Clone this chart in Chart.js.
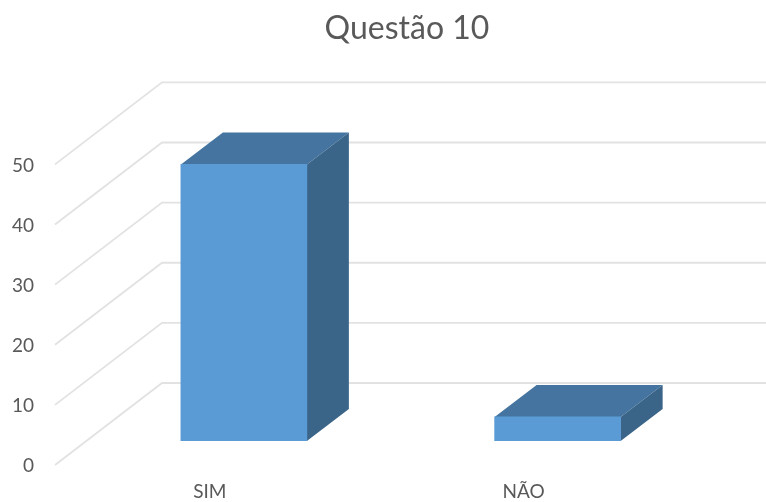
<!DOCTYPE html>
<html>
<head>
<meta charset="utf-8">
<title>Questão 10</title>
<style>
  html, body { margin: 0; padding: 0; background: #fff; }
  #wrap { width: 766px; height: 502px; }
</style>
<script src="https://cdn.jsdelivr.net/npm/chart.js@4"></script>
</head>
<body>
<div id="wrap"><canvas id="bars"></canvas></div>
<script>
const categories = ['SIM', 'NÃO']
const respostas = [46, 4]
const yTicks = [0, 10, 20, 30, 40, 50]

// depth of the fake 3D box, and of the bars inside it
const WALL_X = 107, WALL_Y = 82
const BAR_SHIFT_X = 34, BAR_SHIFT_Y = 24
const BAR_DEPTH_X = 42, BAR_DEPTH_Y = 32

function fillFace(ctx, color, pts) {
    ctx.fillStyle = color
    ctx.beginPath()
    pts.forEach((p, i) => i ? ctx.lineTo(p[0], p[1]) : ctx.moveTo(p[0], p[1]))
    ctx.closePath()
    ctx.fill()
}

const box3d = {
    id: 'box3d',
    afterLayout(chart) {
        // title sits over the back wall, not over the canvas centre
        chart.titleBlock.left = 48
        chart.titleBlock.right = chart.width
    },
    beforeDatasetsDraw(chart) {
        const { ctx, scales: { x, y } } = chart
        ctx.save()
        ctx.strokeStyle = '#e2e2e2'
        ctx.lineWidth = 1.8
        yTicks.forEach(v => {
            const py = y.getPixelForValue(v)
            ctx.beginPath()
            ctx.moveTo(x.left + 2, py)
            ctx.lineTo(x.left + 2 + WALL_X, py - WALL_Y)
            ctx.lineTo(chart.width, py - WALL_Y)
            ctx.stroke()
        })
        ctx.restore()
    },
    beforeDatasetDraw(chart) {
        const ctx = chart.ctx
        ctx.save()
        ctx.translate(BAR_SHIFT_X, -BAR_SHIFT_Y)
        chart.getDatasetMeta(0).data.forEach(bar => {
            const l = bar.x - bar.width / 2, r = bar.x + bar.width / 2
            const dx = BAR_DEPTH_X, dy = BAR_DEPTH_Y
            fillFace(ctx, '#44749f', [[l, bar.y], [l + dx, bar.y - dy], [r + dx, bar.y - dy], [r, bar.y]])
            fillFace(ctx, '#3a6488', [[r, bar.y], [r + dx, bar.y - dy], [r + dx, bar.base - dy], [r, bar.base]])
        })
    },
    afterDatasetDraw(chart) {
        chart.ctx.restore()
    }
}

const barConfig = {
    type: 'bar',
    data: {
        labels: categories,
        datasets: [{
            label: 'Questão 10',
            backgroundColor: '#5b9bd5',
            borderWidth: 0,
            barThickness: 126,
            data: respostas,
        }],
    },
    options: {
        responsive: false,
        animation: false,
        layout: { padding: { left: 0, right: 85.5, top: 0, bottom: 0 } },
        plugins: {
            legend: { display: false },
            tooltip: { enabled: false },
            title: {
                display: true,
                text: 'Questão 10',
                color: '#595959',
                font: { family: 'Lato', size: 32, weight: 'normal' },
                padding: { top: 9, bottom: 117 },
            },
        },
        scales: {
            x: {
                grid: { display: false },
                border: { display: false },
                ticks: { color: '#595959', font: { family: 'Lato', size: 19 }, padding: 7, maxRotation: 0 },
                afterFit(s) { s.height = 37 },
            },
            y: {
                min: 0,
                max: 50,
                grid: { display: false, drawTicks: false },
                border: { display: false },
                ticks: { stepSize: 10, color: '#595959', font: { family: 'Lato', size: 19 }, padding: 19, labelOffset: 1 },
                afterFit(s) { s.width = 53 },
            },
        },
    },
    plugins: [box3d],
}

const barsCanvas = document.getElementById('bars')
barsCanvas.width = 766
barsCanvas.height = 502
window.myBar = new Chart(barsCanvas, barConfig)
</script>
</body>
</html>
